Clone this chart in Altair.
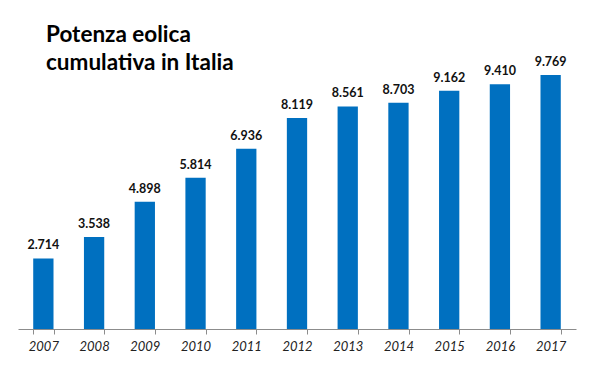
import altair as alt
import pandas as pd

years = ["2007", "2008", "2009", "2010", "2011", "2012", "2013", "2014", "2015", "2016", "2017"]
values = [2714, 3538, 4898, 5814, 6936, 8119, 8561, 8703, 9162, 9410, 9769]
title_lines = ["Potenza eolica", "cumulativa in Italia"]

df = pd.DataFrame({"anno": years, "mw": values})

FONT = "Lato"

base = alt.Chart(df).encode(
    x=alt.X("anno:N", title=None, sort=years,
            scale=alt.Scale(paddingInner=0.6, paddingOuter=0.3),
            axis=alt.Axis(labelAngle=0, tickBand="extent", domainColor="#8c8c8c",
                          tickColor="#8c8c8c", tickSize=5, labelFontStyle="italic",
                          labelFont=FONT, labelFontSize=13, labelColor="#222222",
                          labelPadding=6)),
    y=alt.Y("mw:Q", title=None, scale=alt.Scale(domain=[0, 12000], nice=False),
            axis=None),
)

bars = base.mark_bar(color="#0070C0")

labels = base.transform_calculate(
    lab="replace(format(datum.mw, ','), ',', '.')"
).mark_text(baseline="alphabetic", dy=-9, font=FONT, fontWeight="bold",
            fontSize=12.5, color="#111111").encode(text="lab:N")

title = alt.Chart(pd.DataFrame({"t": [0]})).mark_text(
    text=title_lines, align="left", baseline="alphabetic", font=FONT,
    fontWeight="bold", fontSize=22.5, lineHeight=28, color="#000000"
).encode(x=alt.value(28), y=alt.value(25))

chart = alt.layer(bars, labels, title).properties(
    width=558, height=312,
    autosize=alt.AutoSizeParams(type="none"),
    padding={"left": 10, "top": 9, "right": 4, "bottom": 26},
).configure_view(stroke=None)

chart.save("out.html", embed_options={"renderer": "svg", "actions": False})
